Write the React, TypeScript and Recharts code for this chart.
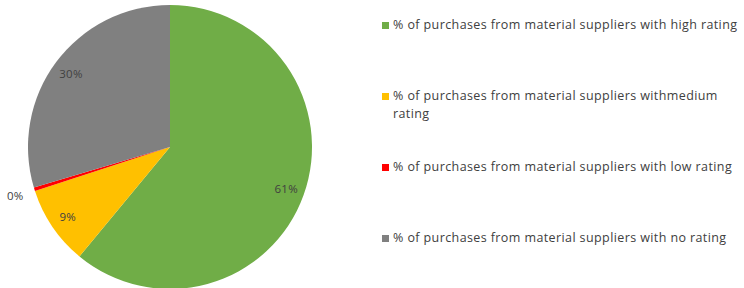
import React from "react";
import { PieChart, Pie, Cell, Legend } from "recharts";

const categories = [
  "% of purchases from material suppliers with high rating",
  "% of purchases from material suppliers withmedium rating",
  "% of purchases from material suppliers with low rating",
  "% of purchases from material suppliers with no rating",
];
const values = [61, 9, 0.4, 29.6];
const labels = ["61%", "9%", "0%", "30%"];
const colors = ["#70AD47", "#FFC000", "#FF0000", "#808080"];

const data = categories.map((name, i) => ({ name, value: values[i], label: labels[i] }));

const RAD = Math.PI / 180;

const renderLabel = (props: any) => {
  const { cx, cy, midAngle, outerRadius, percent, index } = props;
  const outside = percent < 0.01;
  const r = outside ? outerRadius + 20 : outerRadius * 0.87;
  const x = cx + r * Math.cos(-midAngle * RAD);
  const y = cy + r * Math.sin(-midAngle * RAD);
  return (
    <text
      x={x}
      y={y}
      fill="#404040"
      fontSize={11.5}
      fontFamily="Open Sans, sans-serif"
      letterSpacing={0.2}
      textAnchor="middle"
      dominantBaseline="central"
    >
      {labels[index]}
    </text>
  );
};

const renderLegend = () => (
  <div style={{ fontFamily: "Open Sans, sans-serif", fontSize: 12.5, letterSpacing: 0.4, color: "#404040" }}>
    {data.map((d, i) => (
      <div
        key={i}
        style={{ height: 71, display: "flex", alignItems: "flex-start", lineHeight: "18px" }}
      >
        <span
          style={{
            display: "inline-block",
            width: 7,
            height: 7,
            background: colors[i],
            marginTop: 6,
            marginRight: 4,
            flex: "0 0 auto",
          }}
        />
        <span>{d.name}</span>
      </div>
    ))}
  </div>
);

export default function App() {
  return (
    <div style={{ position: "absolute", left: 0, top: 0, width: 744, height: 288, background: "#fff" }}>
      <PieChart width={744} height={288} margin={{ top: 0, right: 0, bottom: 0, left: 0 }}>
        <Pie
          data={data}
          dataKey="value"
          nameKey="name"
          cx={170}
          cy={147}
          outerRadius={142}
          startAngle={90}
          endAngle={-270}
          stroke="none"
          label={renderLabel}
          labelLine={false}
          isAnimationActive={false}
        >
          {data.map((_, i) => (
            <Cell key={i} fill={colors[i]} />
          ))}
        </Pie>
        <Legend
          layout="vertical"
          content={renderLegend}
          wrapperStyle={{ position: "absolute", left: 382, top: 16, width: 360 }}
        />
      </PieChart>
    </div>
  );
}
